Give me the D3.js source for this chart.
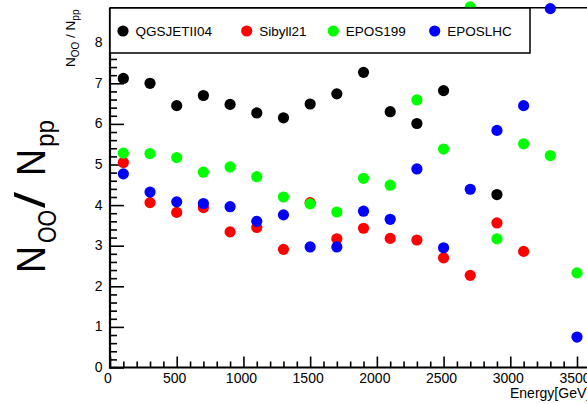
<!DOCTYPE html>
<html>
<head>
<meta charset="utf-8">
<script src="https://cdn.jsdelivr.net/npm/d3@7"></script>
<style>
  html, body { margin: 0; padding: 0; background: #fff; overflow: hidden; }
  svg { display: block; font-family: "Liberation Sans", Arial, Helvetica, sans-serif; }
</style>
</head>
<body>
<svg id="chart" width="587" height="404"></svg>
<script>
// Beam energies (GeV)
const energies = [100, 300, 500, 700, 900, 1100, 1300, 1500, 1700, 1900,
                  2100, 2300, 2500, 2700, 2900, 3100, 3300, 3500];

// N_OO / N_pp ratio per hadronic interaction model (null = no point)
const qgsjet  = [7.12, 7.00, 6.45, 6.70, 6.48, 6.27, 6.15, 6.49, 6.74, 7.27,
                 6.30, 6.01, 6.82, null, 4.26, null, null, null];
const sibyll  = [5.05, 4.06, 3.82, 3.94, 3.34, 3.45, 2.91, 4.06, 3.17, 3.43,
                 3.18, 3.14, 2.70, 2.27, 3.56, 2.86, null, null];
const epos199 = [5.28, 5.27, 5.17, 4.81, 4.94, 4.70, 4.20, 4.03, 3.83, 4.66,
                 4.49, 6.59, 5.38, 8.88, 3.17, 5.51, 5.22, 2.33];
const eposlhc = [4.77, 4.32, 4.08, 4.04, 3.96, 3.60, 3.76, 2.97, 2.97, 3.85,
                 3.65, 4.89, 2.95, 4.39, 5.84, 6.45, 8.84, 0.75];

const seriesNames  = ["QGSJETII04", "Sibyll21", "EPOS199", "EPOSLHC"];
const seriesValues = [qgsjet, sibyll, epos199, eposlhc];
const seriesColors = ["#000000", "#ff0000", "#00ff00", "#0000ff"];

const xTickValues = [0, 500, 1000, 1500, 2000, 2500, 3000, 3500];
const xMinorStep = 100;
const yTickValues = [0, 1, 2, 3, 4, 5, 6, 7, 8];
const yMinorStep = 0.2;

const svg = d3.select("#chart");

const x0 = 110, yBase = 367.5;
const x = d3.scaleLinear().domain([0, 3700]).range([x0, x0 + 3700 * 0.13343]);
const y = d3.scaleLinear().domain([0, 8.86]).range([yBase, yBase - 8.86 * 40.6]);

const fontSize = 14;

// Minor ticks
const xMinor = d3.range(0, 3700 + 1, xMinorStep).filter(v => v % 500 !== 0);
svg.append("g").attr("transform", `translate(0,${yBase})`)
  .call(d3.axisBottom(x).tickValues(xMinor).tickSize(-6).tickFormat(""))
  .call(g => g.select(".domain").remove())
  .selectAll("line").attr("stroke", "#000").attr("stroke-width", 1.6);

const yMinor = d3.range(0, 8.86, yMinorStep).filter(v => Math.abs(v - Math.round(v)) > 1e-6);
svg.append("g").attr("transform", `translate(${x0},0)`)
  .call(d3.axisLeft(y).tickValues(yMinor).tickSize(-7).tickFormat(""))
  .call(g => g.select(".domain").remove())
  .selectAll("line").attr("stroke", "#000").attr("stroke-width", 1.6);

// Major ticks and labels
const xAxis = svg.append("g").attr("transform", `translate(0,${yBase})`)
  .call(d3.axisBottom(x).tickValues(xTickValues).tickSize(-11).tickPadding(5.6)
        .tickFormat(d3.format("d")))
  .call(g => g.select(".domain").remove());
xAxis.selectAll("line").attr("stroke", "#000").attr("stroke-width", 1.6);
xAxis.selectAll("text").attr("fill", "#000").attr("font-size", fontSize)
  .attr("dx", -2.5)
  .attr("font-family", "Liberation Sans, Arial, Helvetica, sans-serif");

const yAxis = svg.append("g").attr("transform", `translate(${x0},0)`)
  .call(d3.axisLeft(y).tickValues(yTickValues).tickSize(-14).tickPadding(7.5)
        .tickFormat(d3.format("d")))
  .call(g => g.select(".domain").remove());
yAxis.selectAll("line").attr("stroke", "#000").attr("stroke-width", 1.6);
yAxis.selectAll("text").attr("fill", "#000").attr("font-size", fontSize)
  .attr("dy", "0.28em")
  .attr("font-family", "Liberation Sans, Arial, Helvetica, sans-serif");

// Frame: bottom axis, left axis, top edge
svg.append("line").attr("x1", x0 - 1).attr("x2", 600).attr("y1", yBase).attr("y2", yBase)
  .attr("stroke", "#000").attr("stroke-width", 2.2);
svg.append("line").attr("x1", x0).attr("x2", x0).attr("y1", yBase + 1).attr("y2", y(8.86))
  .attr("stroke", "#000").attr("stroke-width", 2.2);
svg.append("line").attr("x1", x0).attr("x2", 600).attr("y1", y(8.86)).attr("y2", y(8.86))
  .attr("stroke", "#000").attr("stroke-width", 1.4);

// Data markers
seriesValues.forEach((vals, i) => {
  const pts = energies.map((e, j) => ({ e, v: vals[j] })).filter(p => p.v !== null);
  svg.append("g").selectAll("circle").data(pts).join("circle")
    .attr("cx", d => x(d.e))
    .attr("cy", d => y(d.v))
    .attr("r", 5.6)
    .attr("fill", seriesColors[i]);
});

// Legend
const legend = svg.append("g");
legend.append("rect")
  .attr("x", x0).attr("y", 8).attr("width", 420).attr("height", 45)
  .attr("fill", "#fff").attr("stroke", "#000").attr("stroke-width", 1.5);
const legendX = [123, 246.7, 333.3, 434.7];
seriesNames.forEach((name, i) => {
  legend.append("circle").attr("cx", legendX[i]).attr("cy", 31).attr("r", 5.6)
    .attr("fill", seriesColors[i]);
  legend.append("text").attr("x", legendX[i] + 12.5).attr("y", 36)
    .attr("font-size", 13.5).attr("fill", "#000").text(name);
});

// X-axis title
svg.append("text").attr("x", 510).attr("y", 398).attr("font-size", 14)
  .attr("fill", "#000").text("Energy[GeV]");

// Large y-axis title: N_OO / N_pp, rotated
const bigTitle = svg.append("g").attr("transform", "translate(45,273) rotate(-90)");
const bigParts = [
  { t: "N",  x: 0,   dy: 0,    fs: 41, len: 27 },
  { t: "OO", x: 30,  dy: 10.5, fs: 25, len: 33 },
  { t: "/",  x: 65,  dy: 0,    fs: 43, len: 16 },
  { t: "N",  x: 97,  dy: 0,    fs: 41, len: 27 },
  { t: "pp", x: 126, dy: 8.5,  fs: 25, len: 27 }
];
bigParts.forEach(p => {
  bigTitle.append("text").attr("x", p.x).attr("y", p.dy)
    .attr("font-size", p.fs).attr("fill", "#000")
    .attr("textLength", p.len).attr("lengthAdjust", "spacingAndGlyphs")
    .text(p.t);
});

// Small y-axis title near the top
const smallTitle = svg.append("text")
  .attr("transform", "translate(75,67) rotate(-90)")
  .attr("font-size", 13.5).attr("fill", "#000");
smallTitle.append("tspan").text("N");
smallTitle.append("tspan").attr("dy", 4).attr("font-size", 10).text("OO");
smallTitle.append("tspan").attr("dy", -4).text(" / N");
smallTitle.append("tspan").attr("dy", 4).attr("font-size", 10).text("pp");
</script>
</body>
</html>
